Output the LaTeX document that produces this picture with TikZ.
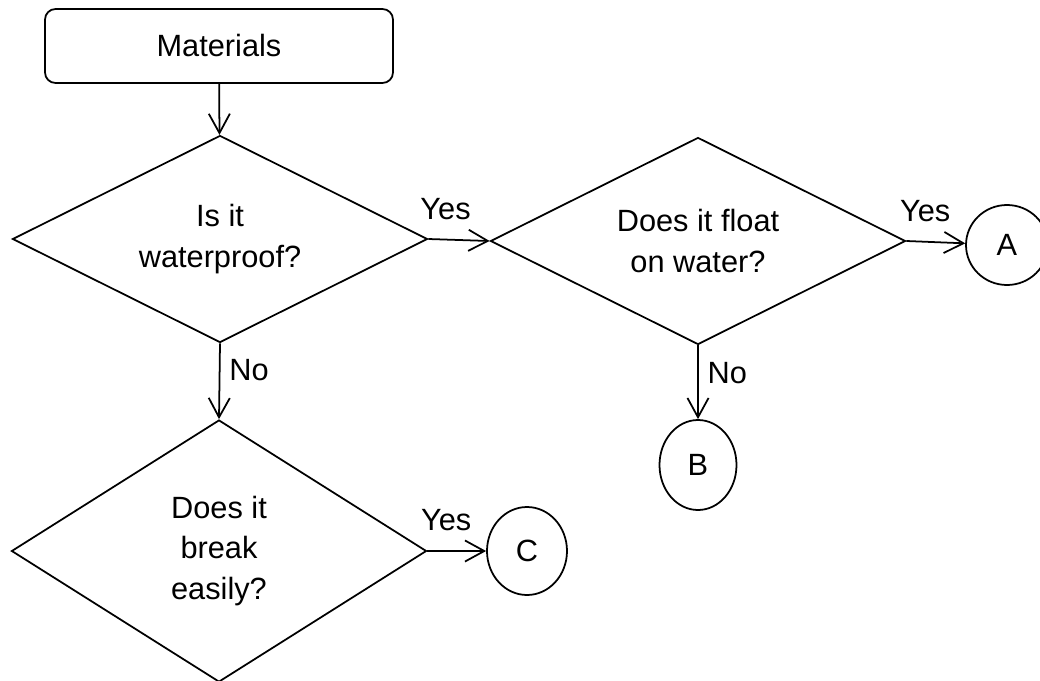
\documentclass[tikz,border=0pt]{standalone}
\usepackage{fontspec}
\setmainfont{Liberation Sans}
\usetikzlibrary{shapes.geometric,arrows.meta,positioning}

\begin{document}
\begin{tikzpicture}[
  font=\fontsize{17.5}{23}\selectfont,
  every path/.style={line width=1pt},
  start/.style={rectangle, draw, rounded corners=6pt, minimum width=6.96cm, minimum height=1.48cm},
  decision/.style={diamond, draw, aspect=2, align=center, inner sep=0pt, minimum width=8.3cm, minimum height=4.14cm},
  outcome/.style={ellipse, draw, inner sep=0pt},
  flow/.style={-{Straight Barb[length=11pt,width=12pt]}},
  answer/.style={inner sep=3pt},
]
\useasboundingbox (0,0) rectangle (20.8,-13.62);
\node[start] (mat) at (4.38,-0.92) {Materials};
\node[decision] (q1) at (4.40,-4.78) {Is it\\waterproof?};
\node[decision] (q2) at (13.96,-4.82) {Does it float\\on water?};
\node[decision, minimum height=5.24cm] (q3) at (4.38,-11.02) {Does it\\break\\easily?};
\node[outcome, minimum width=1.64cm, minimum height=1.60cm] (ca) at (20.14,-4.90) {A};
\node[outcome, minimum width=1.54cm, minimum height=1.80cm] (cb) at (13.96,-9.30) {B};
\node[outcome, minimum width=1.60cm, minimum height=1.76cm] (cc) at (10.54,-11.02) {C};
\draw[flow] (mat) -- (q1);
\draw[flow] (q1.east) -- node[answer, pos=0.28, above, yshift=8pt] {Yes} (q2.west);
\draw[flow] (q2.east) -- node[answer, pos=0.32, above, yshift=8pt] {Yes} (ca);
\draw[flow] (q2.south) -- node[answer, pos=0.37, right, xshift=2pt] {No} (cb);
\draw[flow] (q1.south) -- node[answer, pos=0.35, right, xshift=2pt] {No} (q3.north);
\draw[flow] (q3.east) -- node[answer, pos=0.32, above, yshift=8pt] {Yes} (cc);
\end{tikzpicture}
\end{document}
